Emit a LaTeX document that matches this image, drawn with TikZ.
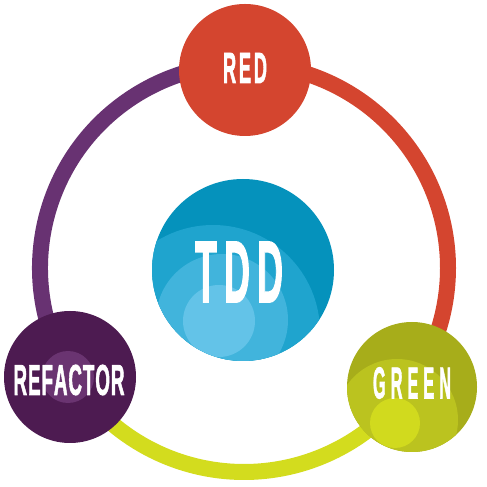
\documentclass[tikz,border=0pt]{standalone}
\usepackage{fontspec}
\usepackage{graphicx}
\newfontfamily\tddfont{Liberation Sans}[BoldFeatures={FakeBold=2.2}]
\definecolor{cred}{HTML}{D4452F}
\definecolor{clime}{HTML}{D3DC1E}
\definecolor{cpurple}{HTML}{683272}
\definecolor{tddA}{HTML}{0592BC}
\definecolor{tddB}{HTML}{1FA4CE}
\definecolor{tddC}{HTML}{41B4DC}
\definecolor{tddD}{HTML}{63C3E8}
\definecolor{grA}{HTML}{A7AD1A}
\definecolor{grB}{HTML}{BBC31F}
\definecolor{grC}{HTML}{D1DA1E}
\definecolor{rfA}{HTML}{4D1B51}
\definecolor{rfB}{HTML}{6A3471}
\newcommand{\lbl}[3]{\resizebox{#1}{#2}{\tddfont\bfseries #3}}
\begin{document}
\begin{tikzpicture}[x=1pt,y=1pt,
  ringarc/.style={line width=16pt},
  blob/.style={circle,inner sep=0pt,outer sep=0pt},
  lab/.style={inner sep=0pt,text=white}]
\useasboundingbox (0,0) rectangle (487,487);
\coordinate (ringc) at (244,219);
% ring arcs
\draw[ringarc,cred] (ringc) ++(90:204pt) arc[start angle=90,end angle=-35.3,radius=204pt];
\draw[ringarc,clime] (ringc) ++(-35.3:204pt) arc[start angle=-35.3,end angle=-147.9,radius=204pt];
\draw[ringarc,cpurple] (ringc) ++(212.1:204pt) arc[start angle=212.1,end angle=90,radius=204pt];
% RED
\node[blob,fill=cred,minimum size=132pt] (red) at (245,417) {};
% TDD
\node[blob,fill=tddA,minimum size=182pt] (tdd) at (243,217) {};
\begin{scope}
\clip (243,217) circle (91pt);
\fill[tddB] (213,155) circle (107pt);
\fill[tddC] (222,167) circle (66pt);
\fill[tddD] (219,166) circle (36pt);
\end{scope}
% GREEN
\node[blob,fill=grA,minimum size=130pt] (green) at (412,100) {};
\begin{scope}
\clip (412,100) circle (65pt);
\fill[grB] (397,67) circle (61pt);
\fill[grC] (395,64) circle (25pt);
\end{scope}
% REFACTOR
\node[blob,fill=rfA,minimum size=132pt] (refactor) at (70,110) {};
\fill[rfB] (68,110) circle (26pt);
% labels
\node[lab] (redt) at (245,419) {\lbl{44pt}{30pt}{R\kern1.5pt E\kern1.5pt D}};
\node[lab] (tddt) at (239,215) {\lbl{88pt}{60pt}{T\kern2pt D\kern2pt D}};
\node[lab] (reft) at (69,107) {\lbl{111pt}{30pt}{R\kern.5pt E\kern.5pt F\kern.5pt A\kern.5pt C\kern.5pt T\kern.5pt O\kern.5pt R}};
\node[lab] (greent) at (412,104) {\lbl{78pt}{31pt}{G\kern3pt R\kern3pt E\kern3pt E\kern3pt N}};
\end{tikzpicture}
\end{document}
